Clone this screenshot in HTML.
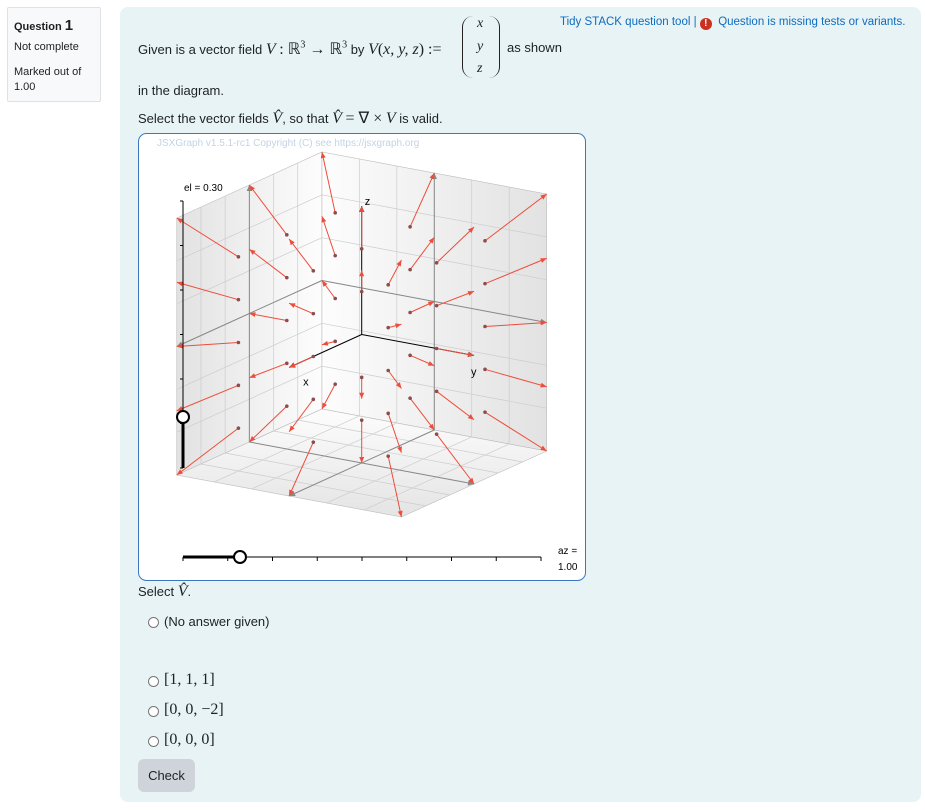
<!DOCTYPE html>
<html><head><meta charset="utf-8">
<style>
body{margin:0;width:925px;height:810px;background:#fff;font-family:"Liberation Sans",sans-serif;font-size:13px;color:#1d2125;position:relative;overflow:hidden}
.abs{position:absolute}
.m{font-family:"Liberation Serif",serif;font-style:italic;font-size:16px}
.r{font-family:"Liberation Serif",serif;font-size:16px}
.info{left:7px;top:7px;width:92px;height:93px;border:1px solid #dee2e6;background:#f8f9fa;border-radius:2px}
.panel{left:120px;top:7px;width:801px;height:795px;background:#e7f3f5;border-radius:8px}
.radio{width:9px;height:9px;border:1px solid #777;border-radius:50%;background:#fff}
a{color:#0f6cbf;text-decoration:none}
</style></head><body>
<div class="abs info">
 <div class="abs" style="left:6px;top:9px;font-size:11px;font-weight:bold">Question <span style="font-size:15px">1</span></div>
 <div class="abs" style="left:6px;top:33px;font-size:11px">Not complete</div>
 <div class="abs" style="left:6px;top:57px;font-size:11px;line-height:15px">Marked out of<br>1.00</div>
</div>
<div class="abs panel"></div>
<div class="abs" style="left:560px;top:16px;font-size:11.5px;color:#0f6cbf"><a>Tidy STACK question tool</a> | <span style="display:inline-block;width:12px;height:12px;border-radius:50%;background:#ca3120;color:#fff;font-size:10px;text-align:center;line-height:12px;font-weight:bold;vertical-align:-1px">!</span> &nbsp;<a>Question is missing tests or variants.</a></div>
<div class="abs" style="left:138px;top:39px;white-space:nowrap">Given is a vector field <span class="m">V</span> <span class="r">: ℝ<sup style="font-size:10px">3</sup> → ℝ<sup style="font-size:10px">3</sup></span> by <span class="m">V</span><span class="r">(</span><span class="m">x, y, z</span><span class="r">) :=</span></div>
<div class="abs" style="left:461px;top:16px;width:40px;height:64px">
 <div class="abs" style="left:1px;top:0;width:10px;height:62px;border-left:1.5px solid #222;border-radius:12px 0 0 12px"></div>
 <div class="abs m" style="left:16px;top:0;font-size:14px">x</div>
 <div class="abs m" style="left:16px;top:23px;font-size:14px">y</div>
 <div class="abs m" style="left:16px;top:45px;font-size:14px">z</div>
 <div class="abs" style="left:28px;top:0;width:10px;height:62px;border-right:1.5px solid #222;border-radius:0 12px 12px 0"></div>
</div>
<div class="abs" style="left:507px;top:40px">as shown</div>
<div class="abs" style="left:138px;top:83px">in the diagram.</div>
<div class="abs" style="left:138px;top:108px;white-space:nowrap">Select the vector fields <span class="m">V̂</span>, so that <span class="m">V̂</span> <span class="r">= ∇ ×</span> <span class="m">V</span> is valid.</div>

<svg class="abs" style="left:0;top:0" width="925" height="810">
 <defs>
  <linearGradient id="gl" x1="0" x2="1"><stop offset="0" stop-color="#e2e2e2"/><stop offset="1" stop-color="#fdfdfd"/></linearGradient>
  <linearGradient id="gr" x1="0" x2="1"><stop offset="0" stop-color="#fdfdfd"/><stop offset="1" stop-color="#e2e2e2"/></linearGradient>
  <linearGradient id="gf" x1="0" y1="0" x2="0" y2="1"><stop offset="0" stop-color="#fdfdfd"/><stop offset="1" stop-color="#e4e4e4"/></linearGradient>
 </defs>
 <rect x="138.5" y="133.5" width="447" height="447" rx="8" fill="#fff" stroke="#3b78c2"/>
 <text x="157" y="146" font-size="10" fill="#c3d3e6" font-family="Liberation Sans">JSXGraph v1.5.1-rc1 Copyright (C) see https://jsxgraph.org</text>
 <g id="scene"></g>
 <g>
  <line x1="183" y1="201" x2="183" y2="468" stroke="#000" stroke-width="1"/>
  <g id="elticks"></g>
  <line x1="183" y1="417" x2="183" y2="468" stroke="#000" stroke-width="3"/>
  <circle cx="183" cy="417" r="6" fill="#fff" stroke="#000" stroke-width="2"/>
  <text x="184" y="191" font-size="10" font-family="Liberation Sans">el = 0.30</text>
 </g>
 <g>
  <line x1="183" y1="557" x2="541" y2="557" stroke="#000" stroke-width="1"/>
  <g id="azticks"></g>
  <line x1="183" y1="557" x2="240" y2="557" stroke="#000" stroke-width="3"/>
  <circle cx="240" cy="557" r="6" fill="#fff" stroke="#000" stroke-width="2"/>
  <text x="558" y="554" font-size="10" font-family="Liberation Sans">az =</text>
  <text x="558" y="570" font-size="10" font-family="Liberation Sans">1.00</text>
 </g>
</svg>

<div class="abs" style="left:138px;top:583px">Select <span class="m">V̂</span>.</div>
<div class="abs radio" style="left:148px;top:617px"></div>
<div class="abs" style="left:164px;top:614px">(No answer given)</div>
<div class="abs radio" style="left:148px;top:676px"></div>
<div class="abs r" style="left:164px;top:671px">[1, 1, 1]</div>
<div class="abs radio" style="left:148px;top:706px"></div>
<div class="abs r" style="left:164px;top:701px">[0, 0, −2]</div>
<div class="abs radio" style="left:148px;top:736px"></div>
<div class="abs r" style="left:164px;top:731px">[0, 0, 0]</div>
<div class="abs" style="left:138px;top:759px;width:57px;height:33px;background:#ced4da;border-radius:6px;text-align:center;line-height:33px">Check</div>

<script>
const gridX=[-2,0,2];
const gridY=[-2,0,2];
const gridZ=[-2,-1,0,1,2];
const arrowScale=0.5;
const boxL=3;
const axisLen=3;
const NS="http://www.w3.org/2000/svg";
const O=[361.7,334.5],EX=[-24.2,11],EY=[37.45,7],EZ=[0,-42.83];
function P(x,y,z){return [O[0]+x*EX[0]+y*EY[0]+z*EZ[0],O[1]+x*EX[1]+y*EY[1]+z*EZ[1]];}
const scene=document.getElementById('scene');
function mk(t,a,par){const e=document.createElementNS(NS,t);for(const k in a)e.setAttribute(k,a[k]);(par||scene).appendChild(e);return e;}
function poly(pts,fill,name){const e=mk('polygon',{points:pts.map(p=>p.join(',')).join(' '),fill:fill,stroke:'#bbb','stroke-width':0.6});

}
function ln(a,b,c,w,name){const e=mk('line',{x1:a[0],y1:a[1],x2:b[0],y2:b[1],stroke:c,'stroke-width':w});

return e;}
function head(a,b,c,s){const dx=b[0]-a[0],dy=b[1]-a[1],l=Math.hypot(dx,dy)||1,ux=dx/l,uy=dy/l;
mk('polygon',{points:[b,[b[0]-ux*s-uy*s*0.45,b[1]-uy*s+ux*s*0.45],[b[0]-ux*s+uy*s*0.45,b[1]-uy*s-ux*s*0.45]].map(p=>p.join(',')).join(' '),fill:c});}
const L=boxL;
poly([P(L,-L,-L),P(-L,-L,-L),P(-L,-L,L),P(L,-L,L)],'url(#gl)','wall-y');
poly([P(-L,-L,-L),P(-L,L,-L),P(-L,L,L),P(-L,-L,L)],'url(#gr)','wall-x');
poly([P(L,-L,-L),P(-L,-L,-L),P(-L,L,-L),P(L,L,-L)],'url(#gf)','floor');
for(let i=-L+1;i<L;i++){
 ln(P(i,-L,-L),P(i,-L,L),'#ccc',0.7,'grid-line');ln(P(-L,-L,i),P(L,-L,i),'#ccc',0.7,'grid-line');
 ln(P(-L,i,-L),P(-L,i,L),'#ccc',0.7,'grid-line');ln(P(-L,-L,i),P(-L,L,i),'#ccc',0.7,'grid-line');
 ln(P(i,-L,-L),P(i,L,-L),'#ccc',0.7,'grid-line');ln(P(-L,i,-L),P(L,i,-L),'#ccc',0.7,'grid-line');
}
[[P(0,-L,-L),P(0,-L,L)],[P(-L,0,-L),P(-L,0,L)],[P(-L,-L,0),P(L,-L,0)],[P(-L,-L,0),P(-L,L,0)],[P(-L,0,-L),P(L,0,-L)],[P(0,-L,-L),P(0,L,-L)]].forEach(s=>{ln(s[0],s[1],'#888',1,'wall-axis');head(s[0],s[1],'#888',6);});
[[axisLen,0,0,'x'],[0,axisLen,0,'y'],[0,0,axisLen,'z']].forEach(a=>{const e=P(a[0],a[1],a[2]);ln(O,e,'#000',1,'axis-'+a[3]);head(O,e,'#000',6);
const t=mk('text',{x:e[0]+(a[3]=='z'?3:a[3]=='x'?14:-3),y:e[1]+(a[3]=='z'?-1:a[3]=='x'?18:20),'font-size':11,'font-family':'Liberation Sans'});t.textContent=a[3];

});
for(const x of gridX)for(const y of gridY)for(const z of gridZ){
 if(x==0&&y==0&&z==0)continue;
 const a=P(x,y,z),b=P(x+x*arrowScale,y+y*arrowScale,z+z*arrowScale);
 const g=mk('g',{});
 
 
 mk('line',{x1:a[0],y1:a[1],x2:b[0],y2:b[1],stroke:'#ee4d3a','stroke-width':1},g);
 const dx=b[0]-a[0],dy=b[1]-a[1],l=Math.hypot(dx,dy)||1,ux=dx/l,uy=dy/l,s=6;
 mk('polygon',{points:[b,[b[0]-ux*s-uy*2.5,b[1]-uy*s+ux*2.5],[b[0]-ux*s+uy*2.5,b[1]-uy*s-ux*2.5]].map(p=>p.join(',')).join(' '),fill:'#ee4d3a'},g);
 mk('circle',{cx:a[0],cy:a[1],r:1.8,fill:'#8b4d4d'},g);
}
const elt=document.getElementById('elticks');
for(let i=0;i<=6;i++){const y=201+i*(267/6);mk('line',{x1:183,y1:y,x2:180,y2:y,stroke:'#000'},elt);}
const azt=document.getElementById('azticks');
for(let i=0;i<=8;i++){const x=183+i*(358/8);mk('line',{x1:x,y1:557,x2:x,y2:561,stroke:'#000'},azt);}
</script>
</body></html>
